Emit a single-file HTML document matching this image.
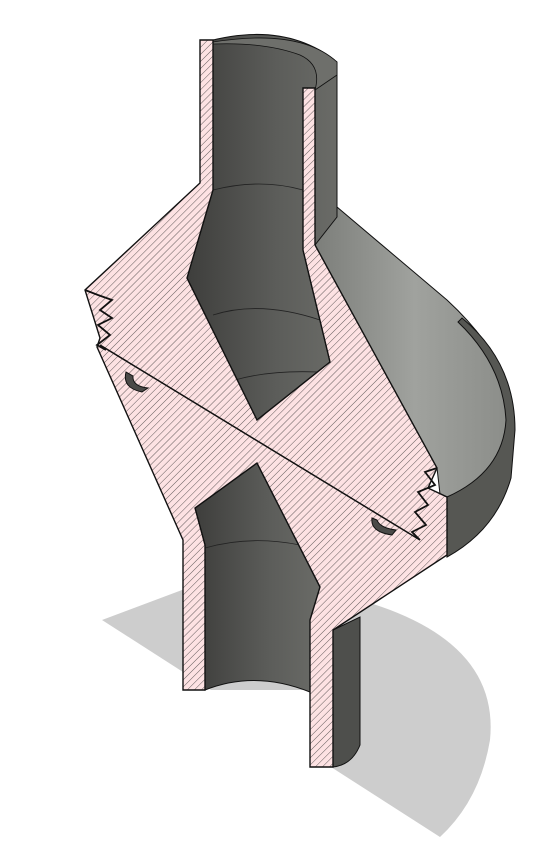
<!DOCTYPE html>
<html><head><meta charset="utf-8"><style>
html,body{margin:0;padding:0;background:#fff;}
svg{display:block;}
</style></head><body>
<svg width="548" height="859" viewBox="0 0 548 859">
<defs>
<pattern id="hatch" patternUnits="userSpaceOnUse" width="5" height="5" patternTransform="rotate(45)">
<rect width="5" height="5" fill="#fde2e3"/>
<line x1="0" y1="0" x2="0" y2="5" stroke="#222" stroke-width="0.7"/>
</pattern>
<linearGradient id="pipeG" x1="0" x2="1" y1="0" y2="0">
<stop offset="0" stop-color="#3e3e3c"/><stop offset="0.6" stop-color="#5c5d5a"/><stop offset="1" stop-color="#6a6b67"/>
</linearGradient>
<linearGradient id="coneG" x1="0" x2="1" y1="0" y2="0">
<stop offset="0" stop-color="#7c7e7a"/><stop offset="0.5" stop-color="#a0a29e"/><stop offset="1" stop-color="#8a8c88"/>
</linearGradient>
</defs>
<path d="M102,620 L190,587 L360,600 Q500,640 490,740 Q480,800 440,837 Z" fill="#cdcdcd"/>
<path d="M198,690 L312,690 L312,768 Z" fill="#fff"/>
<path d="M337,207 L447,300 Q512,360 514,420 L510,470 Q490,530 447,555 L437,468 L315,245 Z" fill="url(#coneG)" stroke="#111" stroke-width="1"/>
<path d="M462,318 Q515,362 515,430 L511,478 Q496,530 447,557 L447,497 Q503,472 506,420 Q503,365 458,322 Z" fill="#565753" stroke="#111" stroke-width="1"/>
<path d="M205,42 Q285,20 337,62 L337,217 L315,245 L303,250 L330,362 L257,420 L187,278 L205,190 Z" fill="url(#pipeG)" stroke="#111" stroke-width="1"/>
<path d="M213,42 Q300,28 337,62 L337,75 L315,90 Q322,65 300,55 Q265,42 213,44 Z" fill="#6e6f6b" stroke="#111" stroke-width="0.8"/>
<path d="M213,190 Q260,178 303,190 M213,315 Q260,300 320,320 M235,380 Q270,370 318,372" fill="none" stroke="#222" stroke-width="0.8"/>
<path d="M195,508 L257,463 L320,587 L310,620 L310,692 Q255,670 205,690 L205,545 Z" fill="url(#pipeG)" stroke="#111" stroke-width="1"/>
<path d="M333,630 L360,617 L360,745 Q352,765 333,767 Z" fill="#4e4f4c" stroke="#111" stroke-width="1"/>
<path d="M205,548 Q250,535 300,545" fill="none" stroke="#222" stroke-width="0.8"/>
<path d="M200,40 L213,40 L213,190 L187,278 L257,420 L330,362 L303,250 L303,88 L315,88 L315,245 L437,468 L428,488 L447,497 L447,555 L333,630 L333,767 L310,767 L310,620 L320,587 L257,463 L195,508 L205,545 L205,690 L183,690 L183,540 L97,347 L100,338 L85,290 L200,183 Z" fill="url(#hatch)" stroke="#111" stroke-width="1.4"/>
<path d="M85,290 L98,295 L112,300 L100,310 L112,318 L98,325 L110,335 L97,345 L106,350" fill="none" stroke="#111" stroke-width="1.8"/>
<path d="M437,468 L425,472 L435,485 L418,492 L428,505 L415,512 L426,525 L412,532 L420,540" fill="none" stroke="#111" stroke-width="1.8"/>
<line x1="100" y1="345" x2="420" y2="540" stroke="#111" stroke-width="1.5"/>
<path d="M126,372 Q122,388 142,392 L148,388 Q132,386 133,376 Z" fill="#4a4a48" stroke="#111" stroke-width="1"/>
<path d="M372,518 Q370,532 392,535 L396,530 Q380,528 377,520 Z" fill="#4a4a48" stroke="#111" stroke-width="1"/>
</svg>
</body></html>
